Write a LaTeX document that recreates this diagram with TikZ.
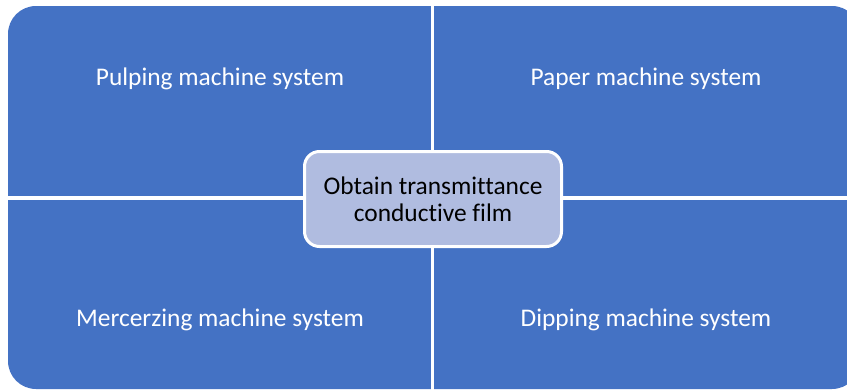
\documentclass[tikz,border=0pt]{standalone}
\usepackage{fontspec}
\setmainfont{Carlito}[Ligatures=NoCommon]
\definecolor{quadblue}{HTML}{4472C4}
\definecolor{hubblue}{HTML}{B0BCE0}

\begin{document}
\begin{tikzpicture}[x=1pt,y=-1pt,
  quadtext/.style={text=white,anchor=base,font=\fontsize{25.4}{28}\selectfont},
  hub/.style={draw=white,line width=3pt,fill=hubblue,rounded corners=15pt,
    minimum width=257pt,minimum height=95pt,align=center,
    font=\fontsize{25.4}{27}\selectfont}]

\useasboundingbox (0,0) rectangle (847,391);

% outer block, split into four by white gaps
\fill[color=quadblue,rounded corners=28pt] (8,6) rectangle (860,389);
\fill[color=white] (431,0) rectangle (434,391);
\fill[color=white] (0,196) rectangle (847,200);

\node[quadtext] (pulp) at (220,85) {Pulping machine system};
\node[quadtext] (paper) at (646,85) {Paper machine system};
\node[quadtext] (merc) at (220,326) {Mercerzing machine system};
\node[quadtext] (dip) at (646,326) {Dipping machine system};

\node[hub] (film) at (433,199) {Obtain transmittance\\conductive film};

\end{tikzpicture}
\end{document}
